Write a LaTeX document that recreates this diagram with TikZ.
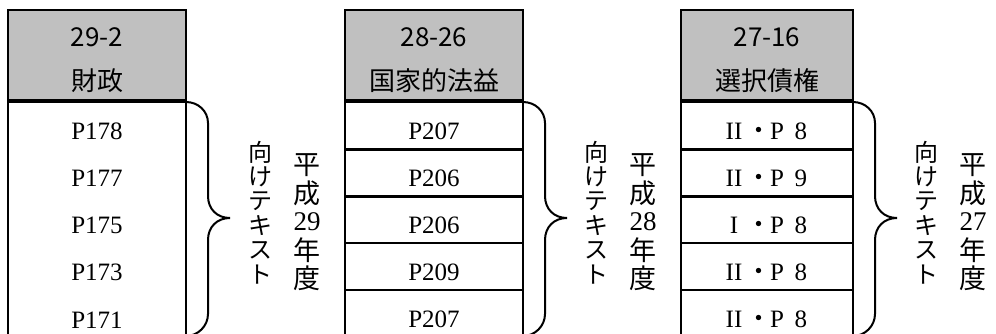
\documentclass[tikz,border=0pt]{standalone}
\usepackage{fontspec}
\setmainfont{Liberation Serif}
\newfontfamily\jpfont{Noto Sans CJK JP}
\usetikzlibrary{calc}
\definecolor{headgray}{RGB}{192,192,192}
\newcommand{\volpage}[2]{\makebox[26pt]{#1}\makebox[24pt]{\jpfont ・}\makebox[12pt]{P}\hspace{12pt}\makebox[12pt]{#2}}

\begin{document}
\begin{tikzpicture}[x=1pt, y=-1pt,
    frame/.style={line width=2.5pt},
    rowrule/.style={line width=2.5pt},
    headrule/.style={line width=4.5pt},
    headtxt/.style={font=\jpfont\fontsize{26}{26}\selectfont},
    pagetxt/.style={font=\fontsize{25}{25}\selectfont},
    kanatxt/.style={font=\jpfont\fontsize{24}{24}\selectfont},
    yeartxt/.style={font=\jpfont\fontsize{27}{27}\selectfont},
    yeardigits/.style={font=\fontsize{27}{27}\selectfont},
    pics/yearbrace/.style={code={
        \draw[line width=2pt] (0,102) .. controls (12,102) and (22,111) .. (22,123)
            -- (22,196) .. controls (22,209) and (31,218) .. (44,218)
            .. controls (31,218) and (22,227) .. (22,240)
            -- (22,314) .. controls (22,326) and (12,336) .. (0,336);
    }}]
    \useasboundingbox (0,0) rectangle (996,334);
    \clip (0,0) rectangle (996,334);

    % Table 1 (no row rules)
    \fill[headgray] (8,10) rectangle (186,101);
    \draw[frame] (8,340) -- (8,10) -- (186,10) -- (186,340);
    \draw[headrule] (8,101) -- (186,101);
    \node[headtxt] (code1) at (97,37) {29-2};
    \node[headtxt] (title1) at (97,81) {財政};
    \foreach \p [count=\i] in {P178,P177,P175,P173,P171}
        \node[pagetxt] (page1-\i) at (97,{131+47.2*(\i-1)}) {\p};
    \pic at (186,0) {yearbrace};
    \foreach \c [count=\i] in {向,け,テ,キ,ス,ト}
        \node[kanatxt] (kana1-\i) at (260,{152+24.6*(\i-1)}) {\c};
    \foreach \c/\y [count=\i] in {平/165,成/193,年/250,度/278}
        \node[yeartxt] (era1-\i) at (307,\y) {\c};
    \node[yeardigits] (yr1) at (307,222) {29};

    % Table 2
    \fill[headgray] (345,10) rectangle (523,101);
    \foreach \y in {149.5,196.5,243,290}
        \draw[rowrule] (345,\y) -- (523,\y);
    \draw[frame] (345,340) -- (345,10) -- (523,10) -- (523,340);
    \draw[headrule] (345,101) -- (523,101);
    \node[headtxt] (code2) at (434,37) {28-26};
    \node[headtxt] (title2) at (434,81) {国家的法益};
    \foreach \p [count=\i] in {P207,P206,P206,P209,P207}
        \node[pagetxt] (page2-\i) at (434,{131+47.2*(\i-1)}) {\p};
    \pic at (523,0) {yearbrace};
    \foreach \c [count=\i] in {向,け,テ,キ,ス,ト}
        \node[kanatxt] (kana2-\i) at (596,{152+24.6*(\i-1)}) {\c};
    \foreach \c/\y [count=\i] in {平/165,成/193,年/250,度/278}
        \node[yeartxt] (era2-\i) at (643,\y) {\c};
    \node[yeardigits] (yr2) at (643,222) {28};

    % Table 3
    \fill[headgray] (681,10) rectangle (853,101);
    \foreach \y in {149.5,196.5,243,290}
        \draw[rowrule] (681,\y) -- (853,\y);
    \draw[frame] (681,340) -- (681,10) -- (853,10) -- (853,340);
    \draw[headrule] (681,101) -- (853,101);
    \node[headtxt] (code3) at (767,37) {27-16};
    \node[headtxt] (title3) at (767,81) {選択債権};
    \foreach \v/\n [count=\i] in {II/8,II/9,I/8,II/8,II/8}
        \node[pagetxt] (page3-\i) at (764,{131+47.2*(\i-1)}) {\volpage{\v}{\n}};
    \pic at (853,0) {yearbrace};
    \foreach \c [count=\i] in {向,け,テ,キ,ス,ト}
        \node[kanatxt] (kana3-\i) at (926,{152+24.6*(\i-1)}) {\c};
    \foreach \c/\y [count=\i] in {平/165,成/193,年/250,度/278}
        \node[yeartxt] (era3-\i) at (973,\y) {\c};
    \node[yeardigits] (yr3) at (973,222) {27};
\end{tikzpicture}
\end{document}
